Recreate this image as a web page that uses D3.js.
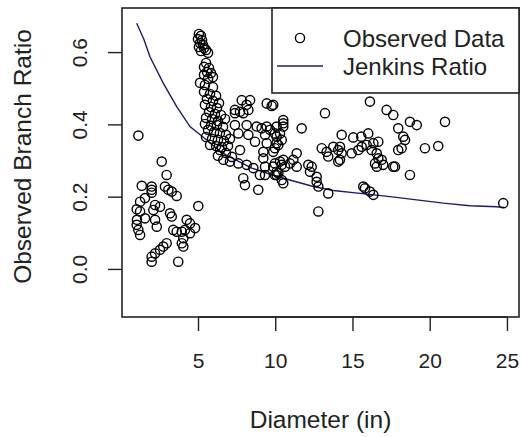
<!DOCTYPE html>
<html><head><meta charset="utf-8">
<script src="https://cdn.jsdelivr.net/npm/d3@7"></script>
<style>html,body{margin:0;padding:0;background:#fff;}svg{display:block;font-family:"Liberation Sans",Arial,sans-serif;}</style>
</head><body>
<script>
// Observed data: diameter (in)
const obsX = [
1.14,2.65,2.97,1.36,2.0,2.0,2.0,2.86,3.08,3.30,3.62,1.57,1.25,5.02,2.22,2.54,1.03,1.25,2.11,3.19,3.30,1.57,1.05,1.03,2.22,4.27,4.48,4.81,2.33,3.40,3.62,3.95,4.16,1.14,1.25,4.05,3.95,4.05,4.48,2.97,2.75,2.54,2.22,2.0,2.0,3.72,
5.06,5.19,5.00,5.26,5.13,5.32,5.06,5.39,5.52,5.19,5.65,5.52,5.39,5.71,5.58,5.84,5.39,5.97,5.65,5.13,5.45,5.97,5.39,5.78,6.17,5.58,5.97,6.36,5.45,5.84,6.23,5.71,6.10,6.49,5.52,5.91,6.29,6.75,
7.83,8.37,8.15,7.39,7.72,8.26,9.45,
5.45,5.84,6.23,6.62,5.65,6.04,6.42,6.81,5.52,5.91,6.29,6.68,7.07,5.78,6.17,6.55,6.94,6.42,6.81,7.20,6.29,
7.39,7.93,7.39,8.15,8.80,9.45,10.09,7.61,8.26,9.34,9.98,8.69,9.45,10.09,7.72,9.23,9.23,9.87,6.64,7.07,7.61,8.15,8.58,9.34,9.98,10.42,9.34,9.98,7.93,8.04,8.90,
9.87,10.52,10.52,10.52,11.71,13.22,16.13,17.21,17.64,17.96,9.66,10.09,10.42,10.20,9.98,11.39,10.52,10.95,11.39,10.63,9.87,10.09,10.09,10.42,10.52,12.14,12.36,12.25,12.68,12.68,12.79,13.43,12.79,
14.30,15.05,16.02,16.35,13.01,13.33,13.43,13.76,14.19,14.08,14.30,14.19,14.95,15.38,15.60,15.92,16.24,16.57,16.67,16.46,16.89,16.99,16.57,17.64,15.70,16.13,16.35,17.96,
9.77,9.12,10.31,15.57,16.67,14.08,11.17,10.31,
18.72,19.16,20.99,18.29,18.40,18.18,19.69,20.55,17.75,18.72,24.76,
9.01,10.20,15.81
];
// Observed data: branch ratio
const obsY = [
0.369,0.297,0.260,0.230,0.228,0.219,0.211,0.228,0.219,0.214,0.202,0.196,0.186,0.174,0.177,0.172,0.165,0.159,0.163,0.154,0.145,0.140,0.136,0.122,0.136,0.136,0.126,0.113,0.117,0.108,0.103,0.103,0.108,0.108,0.094,0.085,0.071,0.062,0.099,0.071,0.062,0.053,0.043,0.034,0.020,0.020,
0.650,0.645,0.636,0.633,0.625,0.620,0.614,0.611,0.606,0.603,0.598,0.570,0.559,0.556,0.545,0.542,0.537,0.531,0.526,0.515,0.509,0.503,0.490,0.484,0.479,0.470,0.465,0.459,0.454,0.448,0.445,0.434,0.429,0.426,0.418,0.415,0.409,0.415,
0.467,0.467,0.454,0.440,0.435,0.440,0.458,
0.401,0.396,0.398,0.393,0.385,0.379,0.376,0.371,0.365,0.360,0.357,0.354,0.360,0.343,0.340,0.337,0.340,0.329,0.321,0.310,0.313,
0.431,0.431,0.398,0.398,0.394,0.394,0.394,0.375,0.371,0.371,0.375,0.352,0.348,0.348,0.329,0.324,0.306,0.324,0.302,0.297,0.292,0.288,0.279,0.283,0.292,0.288,0.260,0.260,0.251,0.232,0.219,
0.454,0.412,0.403,0.394,0.389,0.431,0.463,0.440,0.426,0.389,0.385,0.366,0.357,0.343,0.334,0.320,0.302,0.292,0.283,0.283,0.283,0.269,0.260,0.246,0.237,0.288,0.283,0.269,0.255,0.241,0.228,0.209,0.159,
0.371,0.364,0.375,0.348,0.334,0.324,0.311,0.338,0.338,0.329,0.320,0.302,0.320,0.329,0.338,0.343,0.329,0.320,0.306,0.292,0.302,0.288,0.283,0.283,0.228,0.214,0.205,0.329,
0.451,0.389,0.375,0.366,0.352,0.297,0.302,0.297,
0.407,0.398,0.407,0.366,0.357,0.334,0.334,0.340,0.283,0.260,0.182,
0.260,0.265,0.223
];
// Jenkins ratio curve
const jenX = [1.03,1.5,1.89,2.75,3.62,4.48,5.56,6.31,6.86,8.48,9.66,10.95,12.46,13.76,15.49,17.43,19.16,20.88,22.6,24.33,24.8];
const jenY = [0.68,0.635,0.587,0.514,0.449,0.394,0.357,0.329,0.314,0.279,0.262,0.246,0.228,0.217,0.209,0.200,0.191,0.182,0.175,0.172,0.170];
const xTicks = [5,10,15,20,25];
const yTicks = [0.0,0.2,0.4,0.6];
const legendLabels = ["Observed Data","Jenkins Ratio"];

const W = 521, H = 437;
const L = 122, R = 519, T = 8, B = 317;
const ink = "#222";
const navy = "#1c1c6e";

const x = d3.scaleLinear().domain([0.08, 25.78]).range([L, R]);
const y = d3.scaleLinear().domain([-0.133, 0.722]).range([B, T]);

const svg = d3.select("body").append("svg").attr("width", W).attr("height", H);

// curve
const line = d3.line().x((d,i)=>x(jenX[i])).y((d,i)=>y(jenY[i]));
svg.append("path").datum(jenX).attr("d", line).attr("fill","none").attr("stroke",navy).attr("stroke-width",1.4);

// points
svg.append("g").selectAll("circle").data(obsX).join("circle")
  .attr("cx",(d)=>x(d)).attr("cy",(d,i)=>y(obsY[i])).attr("r",4.6)
  .attr("fill","none").attr("stroke","#000").attr("stroke-width",1.4);

// axes
const xAxis = d3.axisBottom(x).tickValues(xTicks).tickSize(14).tickPadding(22).tickFormat(d3.format("d"));
const gx = svg.append("g").attr("transform",`translate(0,${B})`).call(xAxis);
gx.select(".domain").attr("d",`M${x(xTicks[0])},0H${x(xTicks[xTicks.length-1])}`).attr("stroke",ink).attr("stroke-width",1.4);
gx.selectAll(".tick line").attr("stroke",ink).attr("stroke-width",1.4);
gx.selectAll(".tick text").attr("font-size",21).attr("fill",ink).attr("font-family","Liberation Sans, Arial, sans-serif");

const yAxis = d3.axisLeft(y).tickValues(yTicks).tickSize(14).tickFormat(d3.format(".1f"));
const gy = svg.append("g").attr("transform",`translate(${L},0)`).call(yAxis);
gy.select(".domain").remove();
gy.selectAll(".tick line").attr("stroke",ink).attr("stroke-width",1.4);
gy.selectAll(".tick text").attr("font-size",21).attr("fill",ink).attr("font-family","Liberation Sans, Arial, sans-serif")
  .attr("x",null).attr("dy",null).attr("text-anchor","middle")
  .attr("transform","translate(-42,0) rotate(-90)").attr("dy","0.35em").attr("y",0);

// box
svg.append("rect").attr("x",L).attr("y",T).attr("width",R-L).attr("height",B-T)
  .attr("fill","none").attr("stroke",ink).attr("stroke-width",1.6);

// axis titles
svg.append("text").attr("x",(L+R)/2).attr("y",428).attr("text-anchor","middle")
  .attr("font-size",24.5).attr("fill",ink).text("Diameter (in)");
svg.append("text").attr("transform",`translate(31,${(T+B)/2 - 6}) rotate(-90)`).attr("text-anchor","middle")
  .attr("font-size",24.5).attr("fill",ink).text("Observed Branch Ratio");

// legend
const lg = svg.append("g");
lg.append("rect").attr("x",272).attr("y",T).attr("width",R-272).attr("height",85)
  .attr("fill","#fff").attr("stroke",ink).attr("stroke-width",1.6);
lg.append("circle").attr("cx",300).attr("cy",38).attr("r",4.6).attr("fill","none").attr("stroke","#000").attr("stroke-width",1.4);
lg.append("line").attr("x1",277).attr("x2",323).attr("y1",66).attr("y2",66).attr("stroke",navy).attr("stroke-width",1.4);
lg.selectAll("text.lab").data(legendLabels).join("text").attr("class","lab")
  .attr("x",343).attr("y",(d,i)=>47+i*28).attr("font-size",24).attr("fill",ink).text(d=>d);
</script>
</body></html>
